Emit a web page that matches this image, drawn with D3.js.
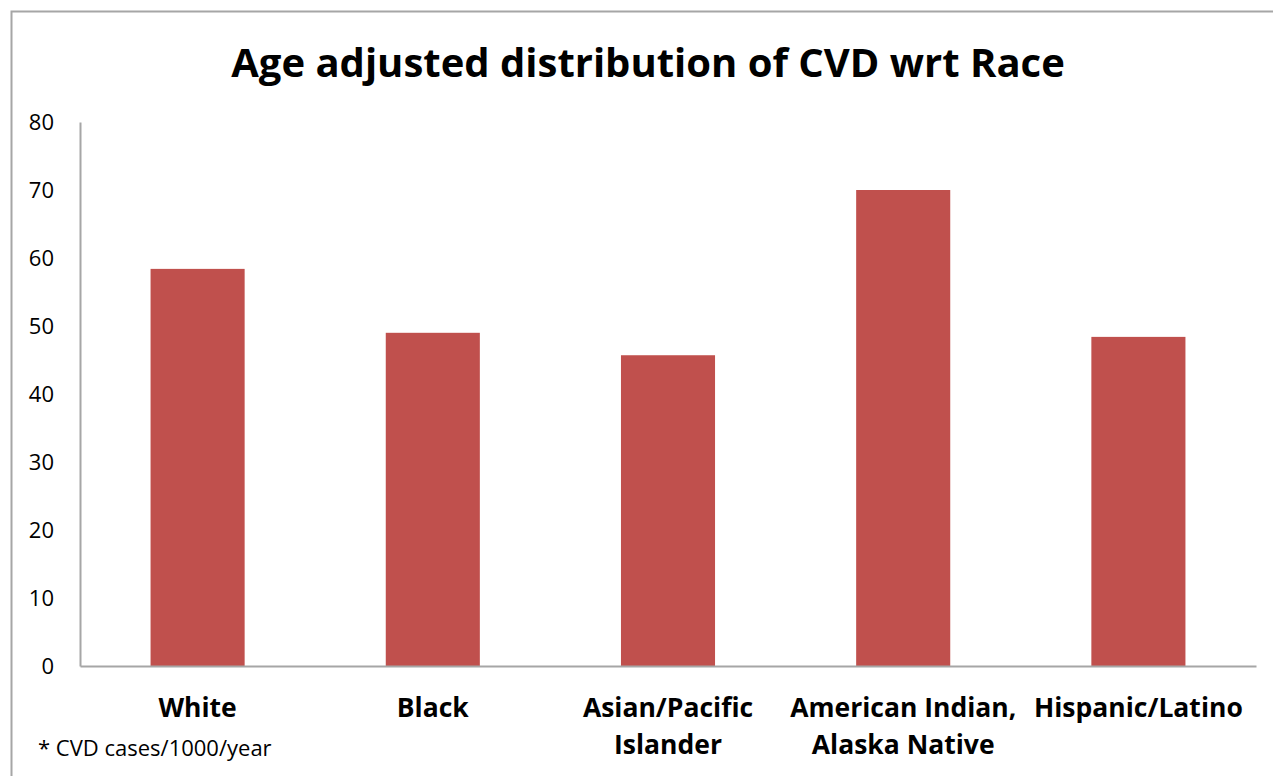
<!DOCTYPE html>
<html>
<head>
<meta charset="utf-8">
<script src="https://cdn.jsdelivr.net/npm/d3@7"></script>
<style>
  body { margin: 0; background: #fff; }
  svg { display: block; font-family: "Open Sans", Lato, sans-serif; }
</style>
</head>
<body>
<div id="chart"></div>
<script>
// chart data
const categories = ["White", "Black", "Asian/Pacific\nIslander", "American Indian,\nAlaska Native", "Hispanic/Latino"];
const values = [58.4, 49.0, 45.7, 70.0, 48.4];
const yTicks = [0, 10, 20, 30, 40, 50, 60, 70, 80];
const title = "Age adjusted distribution of CVD wrt Race";
const footnote = "* CVD cases/1000/year";

const W = 1273, H = 776;
// plot area
const margin = {top: 122, right: 17, bottom: 110, left: 80};
const width = W - margin.left - margin.right,
      height = H - margin.top - margin.bottom;

const svg = d3.select("#chart").append("svg")
    .attr("width", W)
    .attr("height", H);

// outer frame (runs off the bottom/right like the original)
svg.append("rect")
    .attr("x", 11.5).attr("y", 11.5)
    .attr("width", 1400).attr("height", 1000)
    .attr("fill", "none")
    .attr("stroke", "#a6a6a6")
    .attr("stroke-width", 2);

svg.append("text")
    .attr("x", 648).attr("y", 77)
    .attr("text-anchor", "middle")
    .attr("font-size", 40)
    .attr("font-weight", "bold")
    .text(title);

const g = svg.append("g")
    .attr("transform", "translate(" + margin.left + "," + margin.top + ")");

const x = d3.scaleBand().domain(categories).range([0, width])
    .paddingInner(0.6).paddingOuter(0.3);
const y = d3.scaleLinear().domain([0, 80]).range([height, 0]);

g.selectAll(".bar")
    .data(values)
  .enter().append("rect")
    .attr("class", "bar")
    .attr("x", (d, i) => x(categories[i]))
    .attr("width", x.bandwidth())
    .attr("y", d => y(d))
    .attr("height", d => height - y(d))
    .attr("fill", "#c0504d");

// y axis
const yAxis = g.append("g")
    .call(d3.axisLeft(y).tickValues(yTicks).tickSize(0).tickPadding(26));
yAxis.select(".domain").attr("stroke", "#a6a6a6").attr("stroke-width", 2);
yAxis.selectAll("text").attr("font-size", 22).attr("fill", "#000")
    .attr("font-family", "\"Open Sans\", Lato, sans-serif");

// x axis
const xAxis = g.append("g")
    .attr("transform", "translate(0," + height + ")")
    .call(d3.axisBottom(x).tickSize(0).tickFormat(""));
xAxis.select(".domain").attr("stroke", "#a6a6a6").attr("stroke-width", 2);

// category labels, two lines where needed
xAxis.selectAll(".tick").each(function(d) {
  const t = d3.select(this).append("text")
      .attr("fill", "#000")
      .attr("font-size", 26.5)
      .attr("font-weight", "bold")
      .attr("font-family", "\"Open Sans\", Lato, sans-serif")
      .attr("text-anchor", "middle");
  d.split("\n").forEach((line, i) => {
    t.append("tspan").attr("x", 0).attr("y", 51 + i * 37).text(line);
  });
});

svg.append("text")
    .attr("x", 38).attr("y", 756)
    .attr("font-size", 22)
    .text(footnote);
</script>
</body>
</html>
